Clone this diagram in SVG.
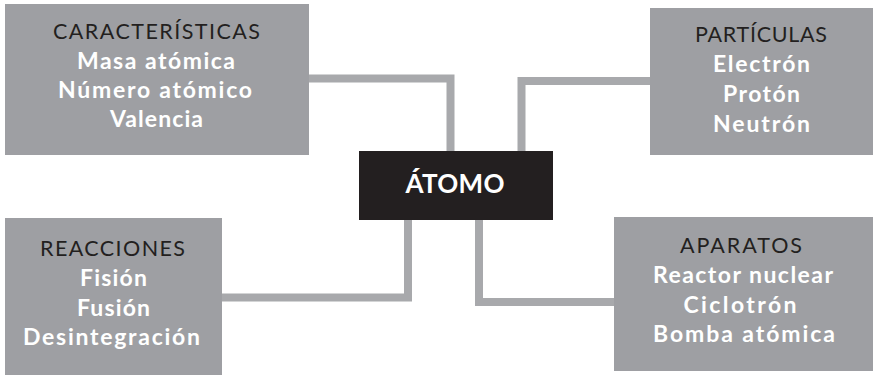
<svg xmlns="http://www.w3.org/2000/svg" width="873" height="377" viewBox="0 0 873 377">
<style>
.box{fill:#9e9fa3}
.conn{fill:none;stroke:#a8a9ac;stroke-width:8;stroke-linejoin:miter;stroke-linecap:butt}
.h{font-family:Lato,"Open Sans","Liberation Sans",sans-serif;font-size:21.5px;fill:#231f20;text-anchor:middle}
.i{font-family:Lato,"Open Sans","Liberation Sans",sans-serif;font-size:23px;font-weight:bold;fill:#ffffff;text-anchor:middle}
.c{font-family:Lato,"Open Sans","Liberation Sans",sans-serif;font-size:26px;font-weight:bold;fill:#ffffff;text-anchor:middle}
</style>
<rect width="873" height="377" fill="#ffffff"/>
<g id="connectors">
<path class="conn" d="M309 78.5 H450.5 V151"/>
<path class="conn" d="M650 81 H521.5 V151"/>
<path class="conn" d="M222 297.5 H408 V220"/>
<path class="conn" d="M614 302 H479 V220"/>
</g>
<g id="atomo">
<rect x="359" y="151" width="194" height="69" fill="#231f20"/>
<text class="c" x="455" y="193" textLength="99" lengthAdjust="spacing">ÁTOMO</text>
</g>
<g id="caracteristicas">
<rect class="box" x="5" y="4" width="304" height="151"/>
<text class="h" x="156.5" y="39" textLength="207" lengthAdjust="spacing">CARACTERÍSTICAS</text>
<text class="i" x="156" y="69" textLength="158" lengthAdjust="spacing">Masa atómica</text>
<text class="i" x="155" y="98" textLength="194" lengthAdjust="spacing">Número atómico</text>
<text class="i" x="156.5" y="127" textLength="93" lengthAdjust="spacing">Valencia</text>
</g>
<g id="particulas">
<rect class="box" x="650" y="8" width="223" height="147"/>
<text class="h" x="761" y="42" textLength="132" lengthAdjust="spacing">PARTÍCULAS</text>
<text class="i" x="761.5" y="72" textLength="97" lengthAdjust="spacing">Electrón</text>
<text class="i" x="761.5" y="102" textLength="77" lengthAdjust="spacing">Protón</text>
<text class="i" x="761.5" y="132" textLength="97" lengthAdjust="spacing">Neutrón</text>
</g>
<g id="reacciones">
<rect class="box" x="5" y="218" width="217" height="157"/>
<text class="h" x="112.5" y="256" textLength="145" lengthAdjust="spacing">REACCIONES</text>
<text class="i" x="113.5" y="286" textLength="67" lengthAdjust="spacing">Fisión</text>
<text class="i" x="113.5" y="316" textLength="73" lengthAdjust="spacing">Fusión</text>
<text class="i" x="111.5" y="345" textLength="177" lengthAdjust="spacing">Desintegración</text>
</g>
<g id="aparatos">
<rect class="box" x="614" y="217" width="259" height="154"/>
<text class="h" x="741" y="253" textLength="122" lengthAdjust="spacing">APARATOS</text>
<text class="i" x="743" y="283" textLength="180" lengthAdjust="spacing">Reactor nuclear</text>
<text class="i" x="740" y="313" textLength="113" lengthAdjust="spacing">Ciclotrón</text>
<text class="i" x="744" y="342" textLength="182" lengthAdjust="spacing">Bomba atómica</text>
</g>
</svg>
